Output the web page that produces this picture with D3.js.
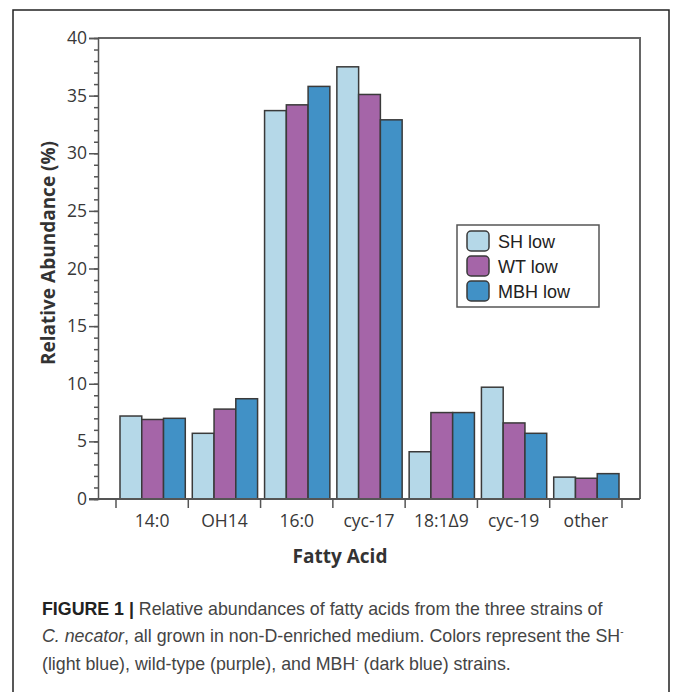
<!DOCTYPE html>
<html>
<head>
<meta charset="utf-8">
<script src="https://cdn.jsdelivr.net/npm/d3@7"></script>
<style>
  html, body { margin: 0; padding: 0; background: #fff; }
  svg { display: block; }
</style>
</head>
<body>
<script>
// Fatty acid composition of three C. necator strains
const categories = ["14:0", "OH14", "16:0", "cyc-17", "18:1Δ9", "cyc-19", "other"];
const seriesNames = ["SH low", "WT low", "MBH low"];
const shLow  = [7.2, 5.7, 33.7, 37.5, 4.1, 9.7, 1.9];
const wtLow  = [6.9, 7.8, 34.2, 35.1, 7.5, 6.6, 1.8];
const mbhLow = [7.0, 8.7, 35.8, 32.9, 7.5, 5.7, 2.2];
const yTicks = [0, 5, 10, 15, 20, 25, 30, 35, 40];
const seriesColors = ["#b5d8e8", "#a565a8", "#4191c6"];

const seriesValues = [shLow, wtLow, mbhLow];
const rows = categories.map((c, i) => ({
  cat: c,
  vals: seriesNames.map((s, j) => ({ key: s, value: seriesValues[j][i] }))
}));

const W = 675, H = 692;
const svg = d3.select("body").append("svg").attr("width", W).attr("height", H);

// figure frame
svg.append("path")
  .attr("d", "M13,700 V10 H669 V700")
  .attr("fill", "none").attr("stroke", "#222").attr("stroke-width", 1.5);

const plot = { left: 98, right: 640, top: 38, bottom: 499 };
const y = d3.scaleLinear().domain([0, 40]).range([plot.bottom, plot.top]);
const x = d3.scaleBand().domain(categories).range([116, 622]).padding(0);
const xs = d3.scaleBand().domain(seriesNames).range([4, x.bandwidth() - 3]).padding(0);
const color = d3.scaleOrdinal().domain(seriesNames).range(seriesColors);

const axisColor = "#555";
const tickFont = "'Open Sans', 'Noto Sans', sans-serif";

// top and right frame of the plot area
svg.append("path")
  .attr("d", `M${plot.left},${plot.top} H${plot.right} V${plot.bottom}`)
  .attr("fill", "none").attr("stroke", "#666").attr("stroke-width", 2);

// bars
const groups = svg.append("g").selectAll("g").data(rows).join("g")
  .attr("transform", d => `translate(${x(d.cat)},0)`);
groups.selectAll("rect").data(d => d.vals).join("rect")
  .attr("x", d => xs(d.key))
  .attr("width", xs.bandwidth())
  .attr("y", d => y(d.value))
  .attr("height", d => y(0) - y(d.value))
  .attr("fill", d => color(d.key))
  .attr("stroke", "#3a3a3a").attr("stroke-width", 1.5);

// y axis with minor ticks
const yAxis = svg.append("g").attr("transform", `translate(${plot.left},0)`);
yAxis.append("g")
  .call(d3.axisLeft(y).tickValues(d3.range(0, 41, 1)).tickSize(4).tickFormat(""))
  .call(g => g.select(".domain").remove())
  .call(g => g.selectAll("line").attr("stroke", axisColor).attr("stroke-width", 1.5));
yAxis.append("g")
  .call(d3.axisLeft(y).tickValues(yTicks).tickSize(9).tickPadding(2))
  .call(g => g.select(".domain").attr("stroke", axisColor).attr("stroke-width", 1.5))
  .call(g => g.selectAll("line").attr("stroke", axisColor).attr("stroke-width", 1.5))
  .call(g => g.selectAll("text").attr("font-family", tickFont).attr("font-size", 17.5).attr("fill", "#383838"));

// x axis: baseline, boundary ticks and category labels
const xBounds = categories.map(c => x(c)).concat([x(categories[categories.length - 1]) + x.bandwidth()]);
svg.append("line")
  .attr("x1", 89).attr("x2", plot.right).attr("y1", y(0)).attr("y2", y(0))
  .attr("stroke", axisColor).attr("stroke-width", 2);
svg.append("g").selectAll("line").data(xBounds).join("line")
  .attr("x1", d => d).attr("x2", d => d)
  .attr("y1", y(0)).attr("y2", y(0) + 9)
  .attr("stroke", axisColor).attr("stroke-width", 1.5);
svg.append("g").selectAll("text").data(categories).join("text")
  .attr("x", d => x(d) + x.bandwidth() / 2)
  .attr("y", 527)
  .attr("text-anchor", "middle")
  .attr("font-family", tickFont).attr("font-size", 17.5).attr("fill", "#383838")
  .text(d => d);

// axis titles
svg.append("text")
  .attr("x", 340).attr("y", 563).attr("text-anchor", "middle")
  .attr("font-family", tickFont).attr("font-weight", "bold").attr("font-size", 19).attr("fill", "#333")
  .text("Fatty Acid");
svg.append("text")
  .attr("transform", "translate(55,253) rotate(-90)")
  .attr("text-anchor", "middle")
  .attr("font-family", tickFont).attr("font-weight", "bold").attr("font-size", 19).attr("fill", "#333")
  .text("Relative Abundance (%)");

// legend
const legend = svg.append("g");
legend.append("rect")
  .attr("x", 457).attr("y", 225).attr("width", 142).attr("height", 82)
  .attr("fill", "#fff").attr("stroke", "#555").attr("stroke-width", 1.5);
const items = legend.selectAll("g").data(seriesNames).join("g")
  .attr("transform", (d, i) => `translate(467,${231 + i * 25})`);
items.append("rect")
  .attr("width", 22).attr("height", 20).attr("rx", 4)
  .attr("fill", d => color(d)).attr("stroke", "#3a3a3a").attr("stroke-width", 1.5);
items.append("text")
  .attr("x", 31).attr("y", 17)
  .attr("font-family", "'Liberation Sans', Arial, sans-serif").attr("font-size", 18).attr("fill", "#222")
  .text(d => d);

// caption
const capFont = "'Liberation Sans', Arial, sans-serif";
const cap = svg.append("g").attr("font-family", capFont).attr("font-size", 17.8).attr("fill", "#444");
const l1 = cap.append("text").attr("x", 42).attr("y", 615);
l1.append("tspan").attr("font-weight", "bold").attr("fill", "#222").text("FIGURE 1 | ");
l1.append("tspan").text("Relative abundances of fatty acids from the three strains of");
const l2 = cap.append("text").attr("x", 42).attr("y", 642);
l2.append("tspan").attr("font-style", "italic").text("C. necator");
l2.append("tspan").text(", all grown in non-D-enriched medium. Colors represent the SH");
l2.append("tspan").attr("font-size", 10).attr("dy", -7).text("-");
const l3 = cap.append("text").attr("x", 42).attr("y", 670);
l3.append("tspan").text("(light blue), wild-type (purple), and MBH");
l3.append("tspan").attr("font-size", 10).attr("dy", -7).text("-");
l3.append("tspan").attr("dy", 7).text(" (dark blue) strains.");
</script>
</body>
</html>
